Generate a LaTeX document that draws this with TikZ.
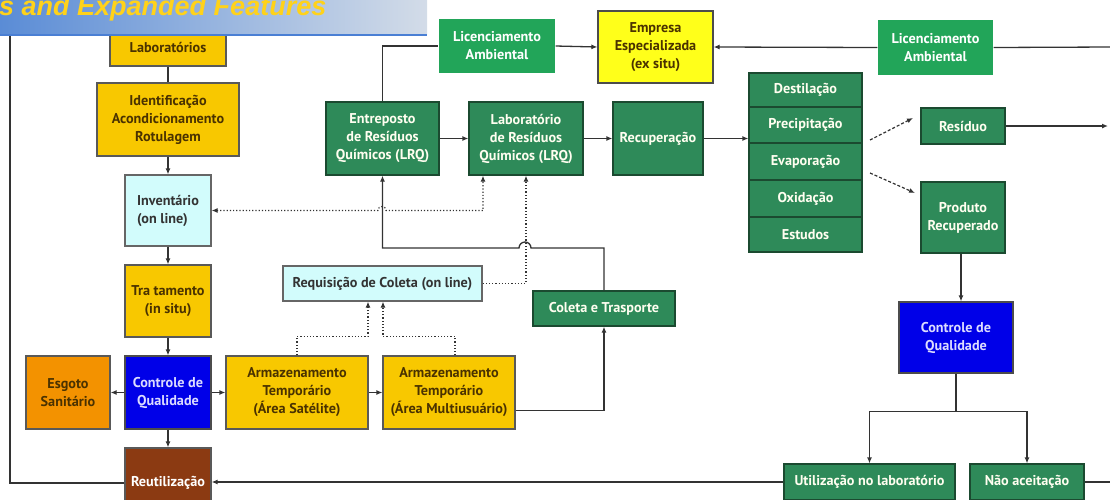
\documentclass[tikz,border=0pt]{standalone}
\usepackage{fontspec}
\setmainfont{PT Sans}
\newfontfamily\titlefont{Liberation Sans}
\usetikzlibrary{arrows.meta}

\definecolor{gold}{HTML}{F8C800}
\definecolor{goldtxt}{HTML}{4A3200}
\definecolor{procgreen}{HTML}{2E8A59}
\definecolor{procedge}{HTML}{1B4A30}
\definecolor{licgreen}{HTML}{22A559}
\definecolor{qblue}{HTML}{0000E8}
\definecolor{qbluetxt}{HTML}{DCDCFF}
\definecolor{paleblue}{HTML}{D2FCFC}
\definecolor{sewer}{HTML}{F39200}
\definecolor{reuse}{HTML}{8B3A12}
\definecolor{firm}{HTML}{FFFF1A}
\definecolor{wire}{HTML}{333333}
\definecolor{bannerL}{HTML}{5A8CD6}
\definecolor{bannerR}{HTML}{D3DCE8}
\definecolor{bannerline}{HTML}{4A7FD4}
\definecolor{titleyellow}{HTML}{FFD21A}

\tikzset{
  box/.style={rectangle, inner sep=1pt, align=center, line width=1.2pt,
              font=\bfseries\fontsize{14.2}{18}\selectfont},
  goldbox/.style={box, fill=gold, draw=black!65, text=goldtxt},
  greenbox/.style={box, fill=procgreen, draw=procedge, text=white!94!yellow},
  licbox/.style={box, fill=licgreen, draw=none, text=white},
  bluebox/.style={box, fill=qblue, draw=black!70, text=qbluetxt},
  cyanbox/.style={box, fill=paleblue, draw=black!60, text=black!80},
  wirel/.style={draw=wire, line width=1.3pt},
  arr/.style={wirel, -{Latex[length=6pt,width=5pt]}},
  dotl/.style={draw=wire, line width=1.2pt, dotted},
  dotarr/.style={dotl, -{Latex[length=6pt,width=5pt]}},
  dasharr/.style={draw=wire, line width=1.2pt, densely dashed, -{Latex[length=6pt,width=5pt]}},
}

\begin{document}
\begin{tikzpicture}[x=1pt, y=-1pt]
\useasboundingbox (0,0) rectangle (1110,499);
\begin{scope}
\clip (0,0) rectangle (1110,499);

% ---------- left column ----------
\node[goldbox, minimum width=116pt, minimum height=38pt] (lab) at (168,47) {Laboratórios};
\node[goldbox, minimum width=142pt, minimum height=73pt] (ident) at (168,119.5)
  {Identificação\\Acondicionamento\\Rotulagem};
\node[cyanbox, minimum width=86pt, minimum height=71pt, align=left] (inv) at (168,210.5)
  {Inventário\\(on line)};
\node[goldbox, minimum width=86pt, minimum height=72pt] (trat) at (168,301)
  {Tra tamento\\(in situ)};
\node[bluebox, minimum width=86pt, minimum height=73pt] (ctrlL) at (168,392.5)
  {Controle de\\Qualidade};
\node[box, fill=sewer, draw=black!65, text=goldtxt, minimum width=84pt, minimum height=73pt] (esg) at (68,392.5)
  {Esgoto\\Sanitário};
\node[box, fill=reuse, draw=black!65, text=white, minimum width=86pt, minimum height=70pt] (reu) at (168,483)
  {Reutilização};

% ---------- storage ----------
\node[goldbox, minimum width=142pt, minimum height=73pt] (sat) at (297,392.5)
  {Armazenamento\\Temporário\\(Área Satélite)};
\node[goldbox, minimum width=132pt, minimum height=73pt] (multi) at (449,392.5)
  {Armazenamento\\Temporário\\(Área Multiusuário)};
\node[cyanbox, minimum width=199pt, minimum height=35pt] (req) at (382.5,283.5)
  {Requisição de Coleta (on line)};
\node[greenbox, minimum width=142pt, minimum height=35pt] (col) at (604,308.5)
  {Coleta e Trasporte};

% ---------- upper chain ----------
\node[greenbox, minimum width=113pt, minimum height=73pt] (ent) at (382.5,138.5)
  {Entreposto\\de Resíduos\\Químicos (LRQ)};
\node[greenbox, minimum width=114pt, minimum height=73pt] (labR) at (526,138.5)
  {Laboratório\\de Resíduos\\Químicos (LRQ)};
\node[greenbox, minimum width=90pt, minimum height=73pt] (rec) at (658,138.5)
  {Recuperação};
\node[licbox, minimum width=116pt, minimum height=54pt] (licL) at (497,46)
  {Licenciamento\\Ambiental};
\node[box, fill=firm, draw=black!70, text=goldtxt, minimum width=115pt, minimum height=72pt] (emp) at (655.5,47)
  {Empresa\\Especializada\\(ex situ)};
\node[licbox, minimum width=115pt, minimum height=55pt] (licR) at (935.5,47.5)
  {Licenciamento\\Ambiental};

% ---------- recovery processes ----------
\node[greenbox, minimum width=113pt, minimum height=34pt] (d1) at (805.5,90) {Destilação};
\node[greenbox, minimum width=113pt, minimum height=36pt] (d2) at (805.5,125) {Precipitação};
\node[greenbox, minimum width=113pt, minimum height=37pt] (d3) at (805.5,161.5) {Evaporação};
\node[greenbox, minimum width=113pt, minimum height=37pt] (d4) at (805.5,198.5) {Oxidação};
\node[greenbox, minimum width=113pt, minimum height=35pt] (d5) at (805.5,234.5) {Estudos};

\node[greenbox, minimum width=84pt, minimum height=36pt] (res) at (963,126) {Resíduo};
\node[greenbox, minimum width=84pt, minimum height=71pt] (prod) at (963,217.5)
  {Produto\\Recuperado};
\node[bluebox, minimum width=114pt, minimum height=71pt] (ctrlR) at (956,337.5)
  {Controle de\\Qualidade};
\node[greenbox, minimum width=171pt, minimum height=36pt] (util) at (869.5,482)
  {Utilização no laboratório};
\node[greenbox, minimum width=114pt, minimum height=36pt] (nao) at (1027,482)
  {Não aceitação};

% ---------- free ends ----------
\coordinate (loopTop) at (10,20);
\coordinate (licOut) at (1112,47);
\coordinate (resOut) at (1108,126);
\coordinate (naoOut) at (1112,482);
\coordinate (pA) at (870,140);
\coordinate (pB) at (913,118);
\coordinate (eA) at (870,173);
\coordinate (eB) at (915,193);

% ---------- connectors, left column ----------
\draw[wirel] (lab) -- (ident);
\draw[arr] (ident) -- (inv);
\draw[arr] (inv) -- (trat);
\draw[arr] (trat) -- (ctrlL);
\draw[arr] (ctrlL) -- (esg);
\draw[arr] (ctrlL) -- (reu);
\draw[arr] (ctrlL) -- (sat);
\draw[arr] (sat) -- (multi);
\draw[wirel] (reu.west) -| (loopTop);

% storage to collection
\draw[arr] ([yshift=-18pt]multi.east) -| (col.south);
\draw[arr] (col.north) |- (531,248) arc[start angle=0, end angle=180, radius=6pt] -| (ent.south);

% requests (dotted)
\draw[dotarr] (sat.north) -- ++(0,-19) -| ([xshift=-14.5pt]req.south);
\draw[dotarr] ([xshift=6pt]multi.north) -- ++(0,-19) -| ([xshift=0.5pt]req.south);
\draw[dotarr] (req.east) -| (labR.south);
\draw[dotl, {Latex[length=6pt,width=5pt]}-{Latex[length=6pt,width=5pt]}]
  (inv.east) -- (378,210.5) arc[start angle=180, end angle=0, radius=4pt]
  -| ([xshift=-43pt]labR.south);

% upper chain
\draw[wirel] (ent.north) |- (licL.west);
\draw[arr] (licL.east) -- (emp.west);
\draw[arr] (licR.west) -- (emp.east);
\draw[wirel] (licR.east) -- (licOut);
\draw[arr] (ent) -- (labR);
\draw[arr] (labR) -- (rec);
\draw[arr] (rec.east) -- (rec.east -| d2.west);

% recovery outputs
\draw[dasharr] (pA) -- (pB);
\draw[dasharr] (eA) -- (eB);
\draw[arr] (res.east) -- (resOut);
\draw[arr] ([xshift=-2pt]prod.south) -- ([xshift=5pt]ctrlR.north);
\draw[wirel] (ctrlR.south) -- ++(0,38) coordinate (split);
\draw[arr] (split) -| (util.north);
\draw[arr] (split) -| (nao.north);
\draw[arr] (util.west) -- (util.west -| reu.east);
\draw[wirel] (nao.east) -- (naoOut);

% ---------- title banner ----------
\shade[left color=bannerL, right color=bannerR] (0,0) rectangle (427,34);
\draw[bannerline, line width=2pt] (0,35) -- (427,35);
\node[anchor=base west, inner sep=0pt, text=titleyellow,
      font=\titlefont\bfseries\itshape\fontsize{27}{32}\selectfont] (title) at (-1,15)
  {s and Expanded Features};
\end{scope}
\end{tikzpicture}
\end{document}
